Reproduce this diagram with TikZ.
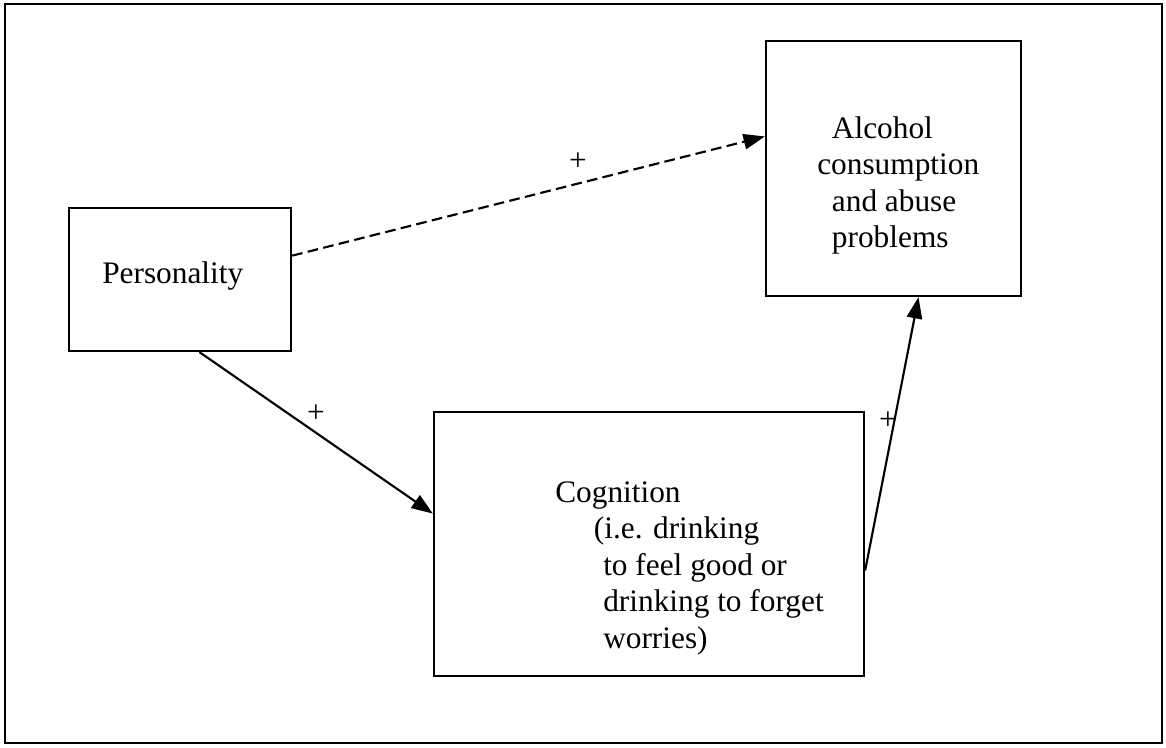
\documentclass[tikz,border=0pt]{standalone}
\usepackage{fontspec}
\setmainfont{Liberation Serif}
\usetikzlibrary{arrows.meta}

\tikzset{
  box/.style={draw, line width=1.7pt, inner sep=0pt},
  txt/.style={inner sep=0pt, anchor=north west, align=left, font=\fontsize{23.5}{27.4}\selectfont},
  plus/.style={inner sep=0pt, font=\fontsize{23.5}{27}\selectfont},
  link/.style={line width=1.6pt, -{Triangle[length=16pt,width=11.5pt]}}
}

\begin{document}
\begin{tikzpicture}[x=0.75pt, y=-0.75pt]
	\useasboundingbox (0,0) rectangle (1166,747);
	\draw[line width=1.8pt] (5,4) rectangle (1162,743); % frame

	% boxes
	\node[box, minimum width=166.5pt, minimum height=107.25pt] (pers) at (180,279.5) {};
	\node[box, minimum width=191.25pt, minimum height=191.25pt] (alc) at (893.5,168.5) {};
	\node[box, minimum width=322.5pt, minimum height=198pt] (cog) at (649,544) {};

	% texts
	\node[txt] (perstext) at (102,261) {Personality};
	\node[txt] (alctext) at (817,116) {\hspace*{11pt}Alcohol\\consumption\\\hspace*{11pt}and abuse\\\hspace*{11pt}problems};
	\node[txt] (cogtext) at (555,481) {Cognition\\\hspace*{29pt}(i.e. drinking\\\hspace*{36pt}to feel good or\\\hspace*{36pt}drinking to forget\\\hspace*{36pt}worries)};

	% links
	\draw[link, dash pattern=on 8pt off 4pt] (pers.12.4) -- (alc.166.5);
	\draw[link] (pers.-75.9) -- (cog.172.6);
	\draw[link] (cog.-7.7) -- (alc.-79.1);

	\node[plus] (plusA) at (578,162) {+};
	\node[plus] (plusB) at (316,414) {+};
	\node[plus] (plusC) at (888,421) {+};
\end{tikzpicture}
\end{document}
